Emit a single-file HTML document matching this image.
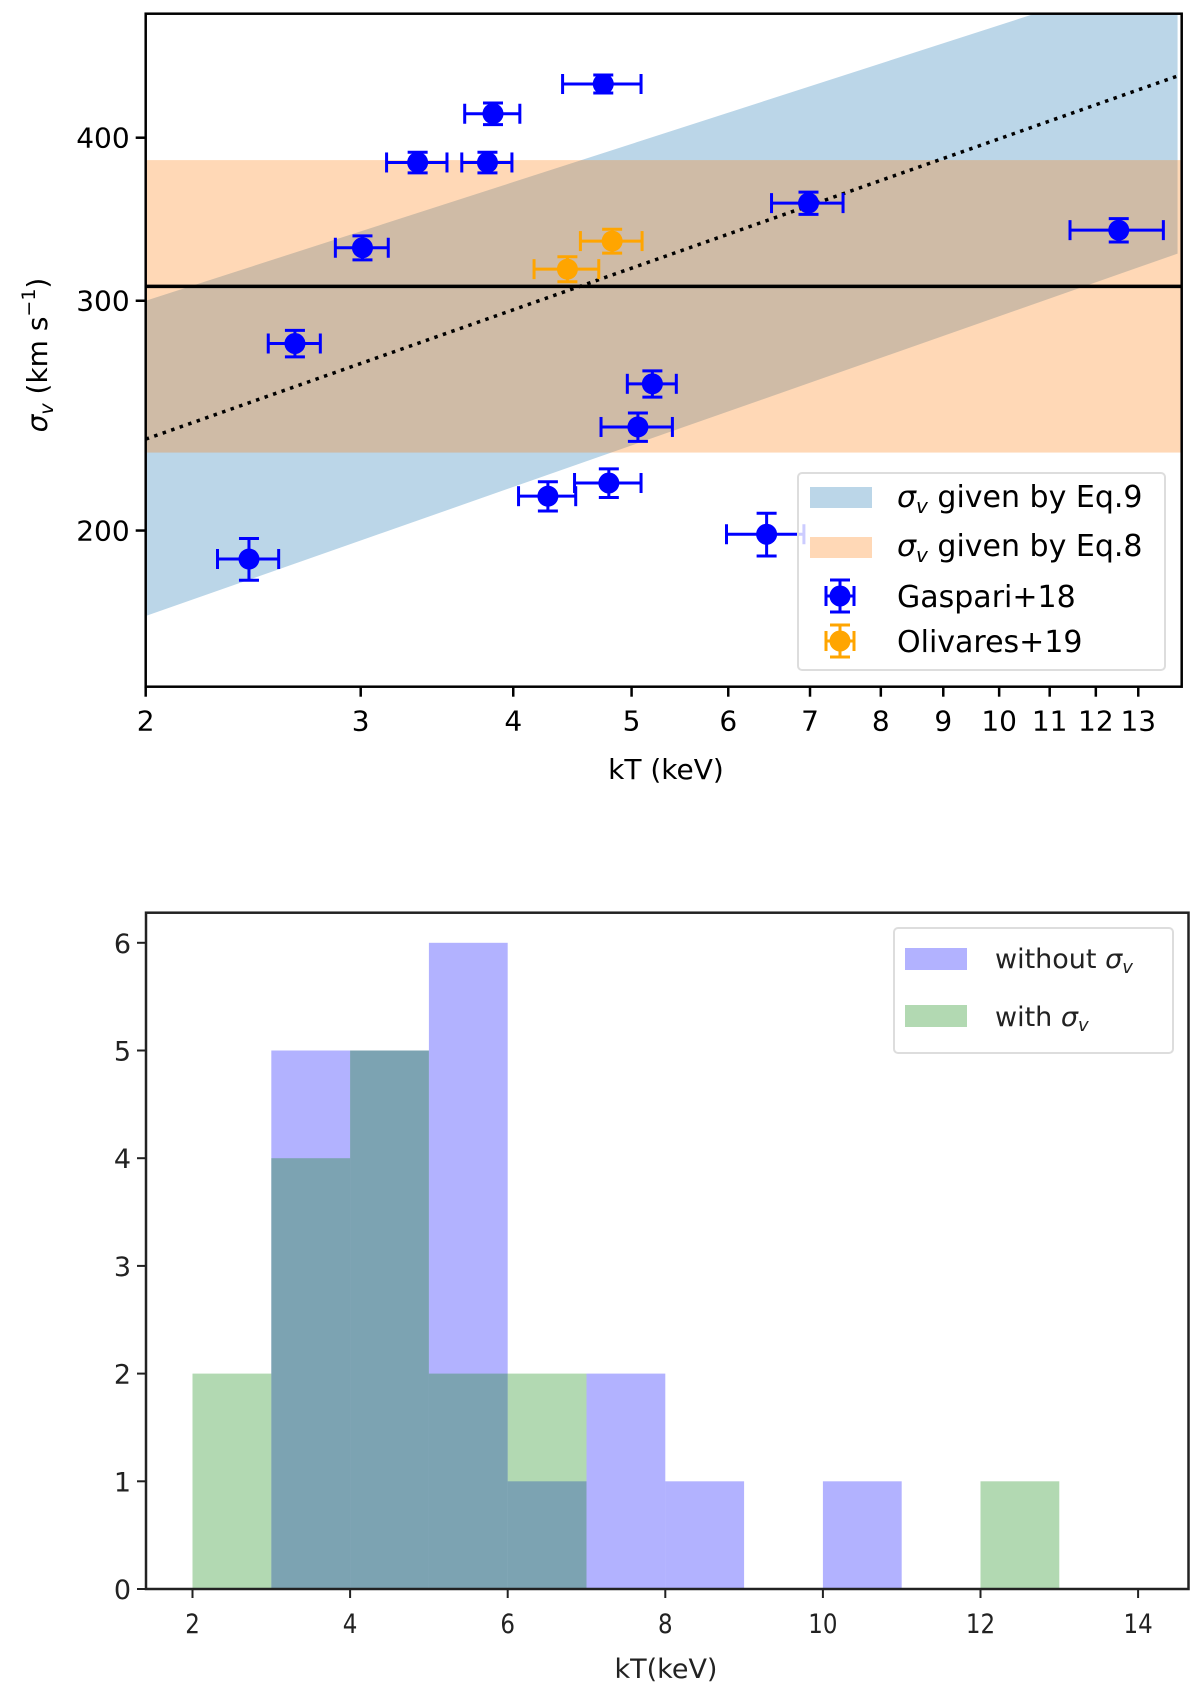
<!DOCTYPE html>
<html><head><meta charset="utf-8"><style>
html,body{margin:0;padding:0;background:#fff;}
svg{display:block;font-family:"DejaVu Sans","Liberation Sans",sans-serif;}
</style></head><body>
<svg id="fig" width="1200" height="1688" viewBox="0 0 1200 1688" xmlns="http://www.w3.org/2000/svg">
<g id="topPanel"></g>
<g id="bot"></g>
</svg>
<script>
// ---- top chart data ----
const gKT=[2.43,2.65,3.01,3.34,3.81,3.85,4.74,6.98,12.53,5.20,5.06,4.79,4.27,6.45];
const gKTerr=[0.14,0.13,0.15,0.19,0.18,0.20,0.35,0.47,1.1,0.24,0.34,0.30,0.23,0.47];
const gSig=[190.2,278.2,329.4,382.9,382.9,417.3,439.8,356.4,339.8,259.1,240.1,217.5,212.5,198.7];
const gSigErr=[7,6.5,7,7,7,8,7,7,7,6,6,5.5,5.5,7.5];
const oKT=[4.43,4.82];
const oKTerr=[0.27,0.28];
const oSig=[317.2,333.3];
const oSigErr=[7,7];
const bandKT=[2,14];
const eq9Upper=[300,540];
const eq9Lower=[172,326];
const fitLine=[235,446];
const eq8Range=[229.5,384.5];
const meanSigma=307.7;
const xTicks=[2,3,4,5,6,7,8,9,10,11,12,13];
const yTicks=[200,300,400];
// ---- histogram data ----
const binEdges=[2,3,4,5,6,7,8,9,10,11,12,13,14];
const withoutCounts=[0,5,5,6,1,2,1,0,1,0,0,0];
const withCounts=[2,4,5,2,2,0,0,0,0,0,1,0];
const hxTicks=[2,4,6,8,10,12,14];
const hyTicks=[0,1,2,3,4,5,6];

(function(){
const NS='http://www.w3.org/2000/svg';
function mk(parent,tag,attrs,text){const e=document.createElementNS(NS,tag);for(const k in attrs)e.setAttribute(k,attrs[k]);if(text!==undefined)e.textContent=text;parent.appendChild(e);return e;}
const L=145.7,R=1181.7,T=13.7,B=686.7;
const X=v=>L+Math.log10(v/2)*1221;
const Y=v=>137.7-Math.log10(v/400)*1305;
const topG=document.getElementById('topPanel');
mk(topG,'defs',{}).innerHTML='<clipPath id="c1"><rect x="'+L+'" y="'+T+'" width="'+(R-L)+'" height="'+(B-T)+'"/></clipPath>';
const plot=mk(topG,'g',{'clip-path':'url(#c1)'});
let p=mk(plot,'polygon',{points:[X(bandKT[0])+','+Y(eq9Upper[0]),X(bandKT[1])+','+Y(eq9Upper[1]),X(bandKT[1])+','+Y(eq9Lower[1]),X(bandKT[0])+','+Y(eq9Lower[0])].join(' '),fill:'#1f77b4','fill-opacity':'0.3'});


p=mk(plot,'rect',{x:L,y:Y(eq8Range[1]),width:R-L,height:Y(eq8Range[0])-Y(eq8Range[1]),fill:'#ff7f0e','fill-opacity':'0.3'});


p=mk(plot,'line',{x1:L,x2:R,y1:Y(meanSigma),y2:Y(meanSigma),stroke:'#000','stroke-width':3.5});


p=mk(plot,'line',{x1:X(bandKT[0]),y1:Y(fitLine[0]),x2:X(bandKT[1]),y2:Y(fitLine[1]),stroke:'#000','stroke-width':3.5,'stroke-dasharray':'3.5 5.5'});


function errPt(g,kt,ke,s,se,col,name){
  const gg=mk(g,'g',{stroke:col,'stroke-width':3,fill:col});
  
  
  const cx=X(kt),cy=Y(s),x1=X(kt-ke),x2=X(kt+ke),y1=Y(s+se),y2=Y(s-se);
  mk(gg,'line',{x1:x1,x2:x2,y1:cy,y2:cy});
  mk(gg,'line',{x1:cx,x2:cx,y1:y1,y2:y2});
  mk(gg,'line',{x1:x1,x2:x1,y1:cy-10,y2:cy+10});
  mk(gg,'line',{x1:x2,x2:x2,y1:cy-10,y2:cy+10});
  mk(gg,'line',{x1:cx-10,x2:cx+10,y1:y1,y2:y1});
  mk(gg,'line',{x1:cx-10,x2:cx+10,y1:y2,y2:y2});
  mk(gg,'circle',{cx:cx,cy:cy,r:10.5,stroke:'none'});
}
for(let i=0;i<gKT.length;i++)errPt(plot,gKT[i],gKTerr[i],gSig[i],gSigErr[i],'#0000ff','gaspari-point');
for(let i=0;i<oKT.length;i++)errPt(plot,oKT[i],oKTerr[i],oSig[i],oSigErr[i],'#ffa500','olivares-point');
p=mk(topG,'rect',{x:L,y:T,width:R-L,height:B-T,fill:'none',stroke:'#000','stroke-width':2.5});


xTicks.forEach(v=>{const x=X(v);mk(topG,'line',{x1:x,x2:x,y1:B,y2:B+10,stroke:'#000','stroke-width':2.5});
 const t=mk(topG,'text',{x:x,y:B+44,'font-size':28,'text-anchor':'middle'},String(v));
 
 });
yTicks.forEach(v=>{const y=Y(v);mk(topG,'line',{x1:L-10,x2:L,y1:y,y2:y,stroke:'#000','stroke-width':2.5});
 const t=mk(topG,'text',{x:L-16,y:y+10,'font-size':28,'text-anchor':'end'},String(v));
 
 });
})();
</script>
<script>
(function(){
const topG=document.getElementById('topPanel');
topG.insertAdjacentHTML('beforeend',
'<text x="666" y="779" font-size="28" text-anchor="middle">kT (keV)</text>'+
'<text transform="translate(47,355) rotate(-90)" font-size="28" text-anchor="middle"><tspan font-style="italic">σ</tspan><tspan font-size="19" font-style="italic" dy="6">v</tspan><tspan dy="-6"> (km s</tspan><tspan font-size="19" dy="-12">−1</tspan><tspan dy="12">)</tspan></text>'+
'<g>'+
'<rect x="798" y="473" width="367" height="197" rx="4" fill="#fff" fill-opacity="0.8" stroke="#ddd" stroke-width="2"/>'+
'<rect x="810" y="487" width="62" height="21" fill="#1f77b4" fill-opacity="0.3"/>'+
'<rect x="810" y="537" width="62" height="21" fill="#ff7f0e" fill-opacity="0.3"/>'+
'<text x="897" y="507" font-size="30"><tspan font-style="italic">σ</tspan><tspan font-style="italic" font-size="20" dy="6">v</tspan><tspan dy="-6"> given by Eq.9</tspan></text>'+
'<text x="897" y="556" font-size="30"><tspan font-style="italic">σ</tspan><tspan font-style="italic" font-size="20" dy="6">v</tspan><tspan dy="-6"> given by Eq.8</tspan></text>'+
'<g stroke="#0000ff" stroke-width="3" fill="#0000ff"><line x1="826" x2="854" y1="596" y2="596"/><line x1="840" x2="840" y1="580" y2="612"/><line x1="826" x2="826" y1="586" y2="606"/><line x1="854" x2="854" y1="586" y2="606"/><line x1="830" x2="850" y1="580" y2="580"/><line x1="830" x2="850" y1="612" y2="612"/><circle cx="840" cy="596" r="10.5" stroke="none"/></g>'+
'<g stroke="#ffa500" stroke-width="3" fill="#ffa500"><line x1="826" x2="854" y1="641" y2="641"/><line x1="840" x2="840" y1="625" y2="657"/><line x1="826" x2="826" y1="631" y2="651"/><line x1="854" x2="854" y1="631" y2="651"/><line x1="830" x2="850" y1="625" y2="625"/><line x1="830" x2="850" y1="657" y2="657"/><circle cx="840" cy="641" r="10.5" stroke="none"/></g>'+
'<text x="897" y="607" font-size="30">Gaspari+18</text>'+
'<text x="897" y="652" font-size="30">Olivares+19</text>'+
'</g>');
})();
</script>
<script>
(function(){
const NS='http://www.w3.org/2000/svg';
function mk(parent,tag,attrs,text){const e=document.createElementNS(NS,tag);for(const k in attrs)e.setAttribute(k,attrs[k]);if(text!==undefined)e.textContent=text;parent.appendChild(e);return e;}
const L=146,R=1188.5,T=912.7,B=1589;
const X=v=>192.5+(v-2)*78.8;
const Y=v=>B-v*107.7;
const g=document.getElementById('bot');
for(let i=0;i<withoutCounts.length;i++){if(!withoutCounts[i])continue;
 const r=mk(g,'rect',{x:X(binEdges[i]),y:Y(withoutCounts[i]),width:X(binEdges[i+1])-X(binEdges[i]),height:B-Y(withoutCounts[i]),fill:'#0000ff','fill-opacity':0.3});
 
 }
for(let i=0;i<withCounts.length;i++){if(!withCounts[i])continue;
 const r=mk(g,'rect',{x:X(binEdges[i]),y:Y(withCounts[i]),width:X(binEdges[i+1])-X(binEdges[i]),height:B-Y(withCounts[i]),fill:'#008000','fill-opacity':0.3});
 
 }
let f=mk(g,'rect',{x:L,y:T,width:R-L,height:B-T,fill:'none',stroke:'#222','stroke-width':2.5});


hxTicks.forEach(v=>{const x=X(v);mk(g,'line',{x1:x,x2:x,y1:B,y2:B+9,stroke:'#222','stroke-width':2});
 const t=mk(g,'text',{x:x,y:B+44,'font-size':27,'text-anchor':'middle',fill:'#222',transform:'translate('+x+',0) scale(0.85,1) translate('+(-x)+',0)'},String(v));
 
 });
hyTicks.forEach(v=>{const y=Y(v);mk(g,'line',{x1:L-9,x2:L,y1:y,y2:y,stroke:'#222','stroke-width':2});
 const t=mk(g,'text',{x:L-15,y:y+10,'font-size':27,'text-anchor':'end',fill:'#222'},String(v));
 
 });
g.insertAdjacentHTML('beforeend',
'<text x="666" y="1678" font-size="27" text-anchor="middle" fill="#222">kT(keV)</text>'+
'<g>'+
'<rect x="894" y="928" width="279" height="125" rx="4" fill="#fff" stroke="#ddd" stroke-width="2"/>'+
'<rect x="905" y="948" width="62" height="22" fill="#0000ff" fill-opacity="0.3"/>'+
'<rect x="905" y="1005" width="62" height="22" fill="#008000" fill-opacity="0.3"/>'+
'<text x="995" y="968" font-size="27" fill="#222">without <tspan font-style="italic">σ</tspan><tspan font-style="italic" font-size="18" dy="5">v</tspan></text>'+
'<text x="995" y="1026" font-size="27" fill="#222">with <tspan font-style="italic">σ</tspan><tspan font-style="italic" font-size="18" dy="5">v</tspan></text>'+
'</g>');
})();
</script>
</body></html>
